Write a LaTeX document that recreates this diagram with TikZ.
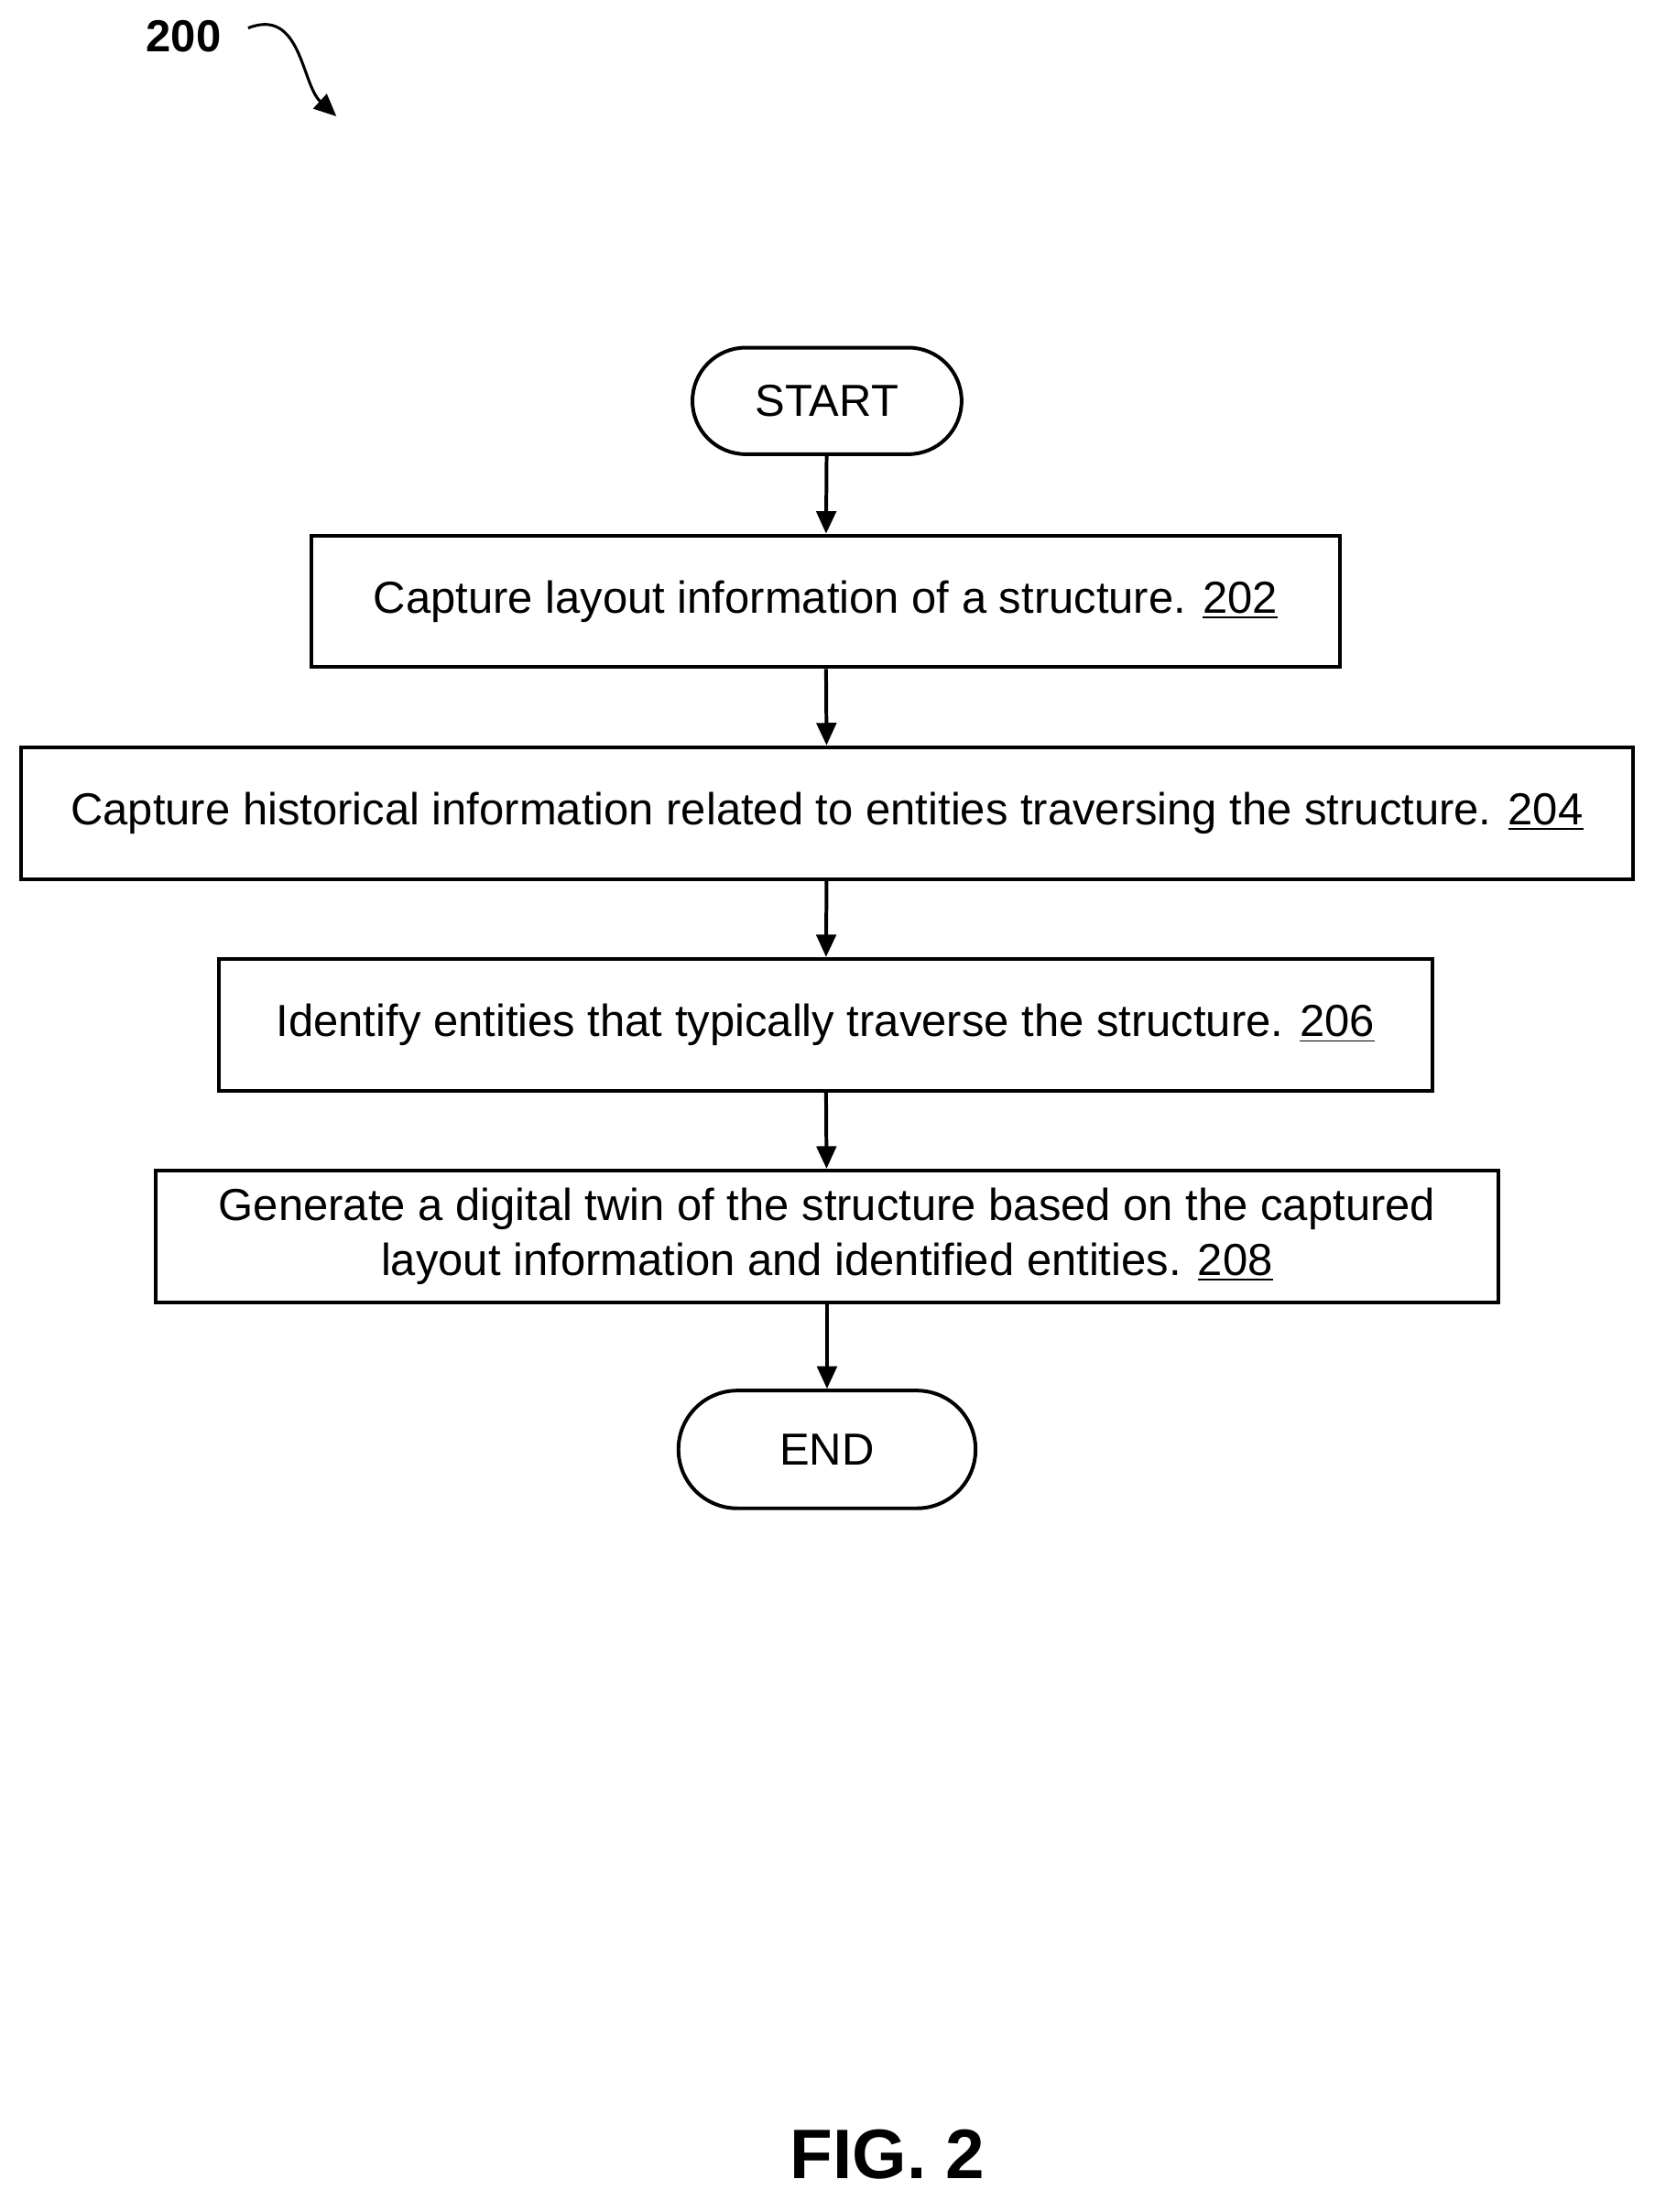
\documentclass[tikz,border=0pt]{standalone}
\usepackage{fontspec}
\setmainfont{Liberation Sans}
\usetikzlibrary{arrows.meta}
\tikzset{
  flowbox/.style={draw, line width=1.3pt, minimum height=47pt, font=\fontsize{16}{19.5}\selectfont, align=center},
  term/.style={draw, line width=1.3pt, rounded corners=19pt, font=\fontsize{16}{19}\selectfont},
  flow/.style={-{Triangle[length=8pt,width=7pt]}, line width=1.3pt}
}
\begin{document}
\begin{tikzpicture}[x=0.5pt,y=-0.5pt]
\useasboundingbox (0,0) rectangle (1188,1578);
\node (N200) at (131,26) [font=\bfseries\fontsize{16}{19}\selectfont] {200};
\coordinate (C200) at (240,83);
\draw [-{Triangle[length=8pt,width=7pt]}, line width=1pt] (177,20) .. controls (215,5) and (215,60) .. (C200);

\node (S) at (590,286) [term, minimum width=96pt, minimum height=38pt] {START};
\node (B1) at (589,429) [flowbox, minimum width=367pt] {Capture layout information of a structure. \underline{202}};
\node (B2) at (590,580) [flowbox, minimum width=575pt] {Capture historical information related to entities traversing the structure. \underline{204}};
\node (B3) at (589,731) [flowbox, minimum width=433pt] {Identify entities that typically traverse the structure. \underline{206}};
\node (B4) at (590,882) [flowbox, minimum width=479pt] {Generate a digital twin of the structure based on the captured\\layout information and identified entities. \underline{208}};
\node (E) at (590,1034) [term, minimum width=106pt, minimum height=42pt, rounded corners=21pt] {END};

\draw [flow] (S) -- (B1);
\draw [flow] (B1) -- (B2);
\draw [flow] (B2) -- (B3);
\draw [flow] (B3) -- (B4);
\draw [flow] (B4) -- (E);

\node (F) at (633,1537) [font=\bfseries\fontsize{25}{30}\selectfont] {FIG. 2};
\end{tikzpicture}
\end{document}
